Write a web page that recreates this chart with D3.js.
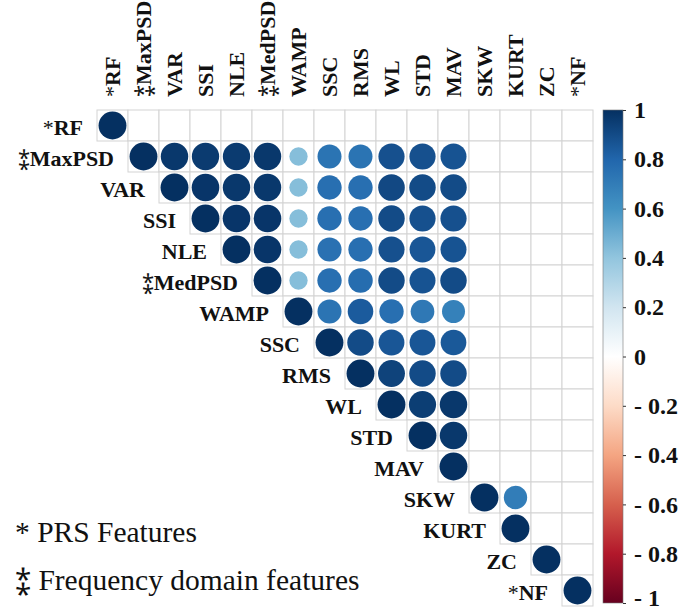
<!DOCTYPE html>
<html>
<head>
<meta charset="utf-8">
<script src="https://cdn.jsdelivr.net/npm/d3@7"></script>
<style>
  body { margin: 0; background: #fff; }
</style>
</head>
<body>
<svg id="chart" width="681" height="610"></svg>
<script>
var features = ['RF', 'MaxPSD', 'VAR', 'SSI', 'NLE', 'MedPSD', 'WAMP', 'SSC',
                'RMS', 'WL', 'STD', 'MAV', 'SKW', 'KURT', 'ZC', 'NF'];
// '*' = PRS feature, '⁑' = frequency domain feature
var marks = ['*', '⁑', '', '', '', '⁑', '', '', '', '', '', '', '', '', '', '*'];

// upper triangle, row i holds columns i..15 (null = not shown)
var corrRows = [
  [1, null, null, null, null, null, null, null, null, null, null, null, null, null, null, null],
  [1, 0.97, 0.96, 0.96, 0.97, 0.43, 0.74, 0.74, 0.88, 0.88, 0.87, null, null, null, null],
  [1, 0.98, 0.97, 0.97, 0.43, 0.76, 0.76, 0.91, 0.9, 0.9, null, null, null, null],
  [1, 0.98, 0.98, 0.43, 0.76, 0.76, 0.9, 0.88, 0.88, null, null, null, null],
  [1, 0.98, 0.43, 0.75, 0.76, 0.88, 0.86, 0.87, null, null, null, null],
  [1, 0.43, 0.76, 0.77, 0.9, 0.87, 0.9, null, null, null, null],
  [1, 0.74, 0.84, 0.76, 0.72, 0.68, null, null, null, null],
  [1, 0.9, 0.86, 0.86, 0.85, null, null, null, null],
  [1, 0.93, 0.9, 0.9, null, null, null, null],
  [1, 0.95, 0.97, null, null, null, null],
  [1, 0.97, null, null, null, null],
  [1, null, null, null, null],
  [1, 0.7, null, null],
  [1, null, null],
  [1, null],
  [1]
];

var legendTicks = [1, 0.8, 0.6, 0.4, 0.2, 0, -0.2, -0.4, -0.6, -0.8, -1];
var paletteStops = [-1, -0.8, -0.6, -0.4, -0.2, 0, 0.2, 0.4, 0.6, 0.8, 1];
var paletteColors = ['#67001F', '#B2182B', '#D6604D', '#F4A582', '#FDDBC7', '#FFFFFF',
                     '#D1E5F0', '#92C5DE', '#4393C3', '#2166AC', '#053061'];

var serifFont = 'Liberation Serif';
var svg = d3.select('#chart');

var x = d3.scaleBand().domain(features).range([97, 593]);
var y = d3.scaleBand().domain(features).range([110, 606]);
var color = d3.scaleLinear().domain(paletteStops).range(paletteColors);
var cell = x.bandwidth();

// flatten the triangle into cells
var cells = [];
corrRows.forEach(function (row, i) {
  row.forEach(function (v, k) {
    cells.push({row: features[i], col: features[i + k], value: v});
  });
});

var grid = svg.append('g').attr('class', 'grid');
grid.selectAll('rect')
  .data(cells)
  .enter()
  .append('rect')
  .attr('x', function (d) { return x(d.col); })
  .attr('y', function (d) { return y(d.row); })
  .attr('width', cell)
  .attr('height', cell)
  .attr('fill', '#fff')
  .attr('stroke', '#d3d3d3')
  .attr('stroke-width', 1);

// circle area ~ |r|, like corrplot
grid.selectAll('circle')
  .data(cells.filter(function (d) { return d.value !== null; }))
  .enter()
  .append('circle')
  .attr('cx', function (d) { return x(d.col) + cell / 2; })
  .attr('cy', function (d) { return y(d.row) + cell / 2; })
  .attr('r', function (d) { return 0.45 * cell * Math.sqrt(Math.abs(d.value)); })
  .attr('fill', function (d) { return color(d.value); });

// row labels
var rowLab = svg.append('g').attr('class', 'row-labels');
features.forEach(function (f, i) {
  var t = rowLab.append('text')
    .attr('x', x(f) - 14)
    .attr('y', y(f) + cell / 2 + 9)
    .attr('text-anchor', 'end')
    .style('font-family', serifFont)
    .attr('font-size', 22)
    .attr('font-weight', 'bold')
    .attr('fill', '#111');
  if (marks[i]) t.append('tspan').attr('font-weight', 'normal').text(marks[i]);
  t.append('tspan').text(f);
});

// column labels, rotated
var colLab = svg.append('g').attr('class', 'col-labels');
features.forEach(function (f, i) {
  var t = colLab.append('text')
    .attr('transform', 'translate(' + (x(f) + cell / 2 + 7) + ',97) rotate(-90)')
    .attr('text-anchor', 'start')
    .style('font-family', serifFont)
    .attr('font-size', 22)
    .attr('font-weight', 'bold')
    .attr('fill', '#111');
  if (marks[i]) t.append('tspan').attr('font-weight', 'normal').text(marks[i]);
  t.append('tspan').text(f);
});

// colour bar
var defs = svg.append('defs');
var grad = defs.append('linearGradient')
  .attr('id', 'bar-grad')
  .attr('x1', 0).attr('y1', 1).attr('x2', 0).attr('y2', 0);
grad.selectAll('stop')
  .data(paletteStops)
  .enter()
  .append('stop')
  .attr('offset', function (d) { return (d + 1) / 2; })
  .attr('stop-color', function (d) { return color(d); });

var barY = d3.scaleLinear().domain([1, -1]).range([110, 603]);
svg.append('rect')
  .attr('x', 603)
  .attr('y', barY(1))
  .attr('width', 20)
  .attr('height', barY(-1) - barY(1))
  .attr('fill', 'url(#bar-grad)')
  .attr('stroke', '#777')
  .attr('stroke-width', 0.6);

var barAxis = svg.append('g')
  .attr('transform', 'translate(623,0)')
  .call(d3.axisRight(barY)
    .tickValues(legendTicks)
    .tickSize(3)
    .tickPadding(8)
    .tickFormat(function (v) { return v < 0 ? '- ' + Math.abs(v) : String(v); }));
barAxis.select('.domain').remove();
barAxis.attr('font-family', null);
barAxis.selectAll('line').attr('stroke', '#333');
barAxis.selectAll('text')
  .style('font-family', serifFont)
  .attr('font-size', 24)
  .attr('font-weight', 'bold')
  .attr('fill', '#111')
  .attr('dy', function (d) { return d === -1 ? '0.1em' : '0.32em'; });

// note under the matrix
var note = svg.append('g').attr('class', 'note');
note.append('text')
  .attr('x', 15).attr('y', 542)
  .style('font-family', serifFont)
  .attr('font-size', 29.5)
  .attr('fill', '#111')
  .text('* PRS Features');
note.append('text')
  .attr('x', 15).attr('y', 590)
  .style('font-family', serifFont)
  .attr('font-size', 29.5)
  .attr('fill', '#111')
  .text('⁑ Frequency domain features');
</script>
</body>
</html>
